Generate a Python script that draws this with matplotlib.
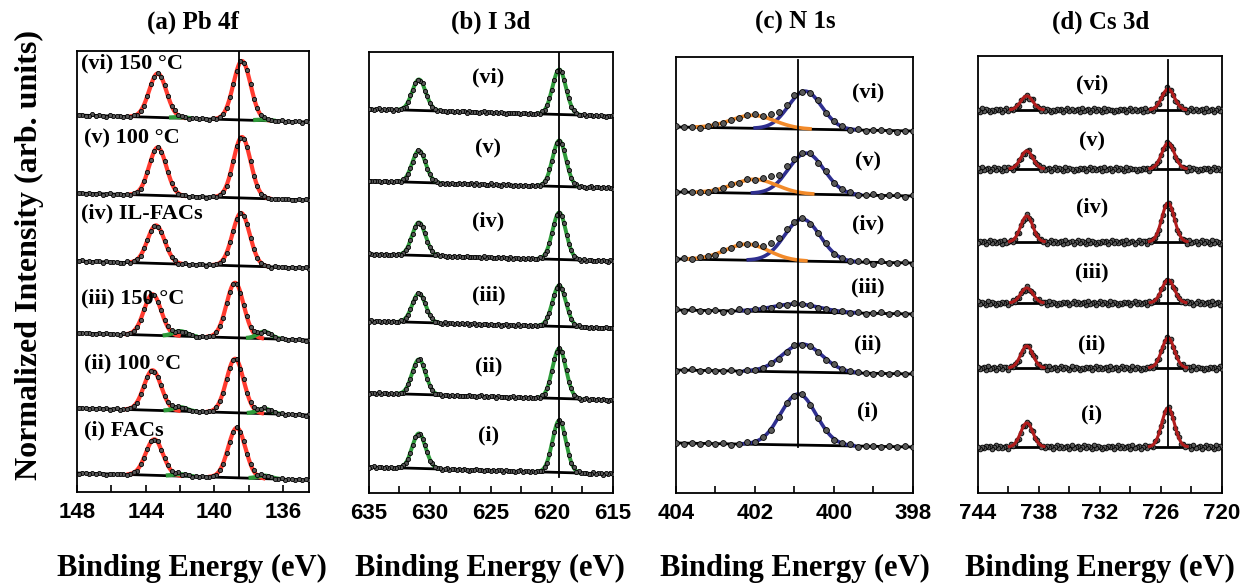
import numpy as np
import matplotlib
matplotlib.use('Agg')
import matplotlib.pyplot as plt

# spectra are listed from (i) at the bottom to (vi) at the top
SHORT_LABELS = ['(i)', '(ii)', '(iii)', '(iv)', '(v)', '(vi)']
PB_LABELS = ['(i) FACs', '(ii) 100 °C', '(iii) 150 °C',
             '(iv) IL-FACs', '(v) 100 °C', '(vi) 150 °C']
TITLES = ['(a) Pb 4f', '(b) I 3d', '(c) N 1s', '(d) Cs 3d']

# (a) Pb 4f
PB_OFFSET = [19, 84, 159, 231, 299, 377]
PB72_POS = [138.7, 138.8, 138.8, 138.45, 138.4, 138.4]
PB52_POS = [143.5, 143.6, 143.6, 143.4, 143.3, 143.3]
PB72_H = [50, 54, 55, 53, 61, 59]
PB52_H = [36, 40, 41, 38, 48, 44]
PB0_72_H = [3, 5, 7, 0, 0, 1]
PB0_52_H = [2, 4, 5, 0, 0, 1]
PB0_72_POS = 137.1
PB0_52_POS = 142.0
PB_LINE = 138.6

# (b) I 3d
I_OFFSET = [26, 100, 172, 239, 312, 384]
I52_POS = 619.4
I32_POS = 630.9
I52_H = [52, 50, 41, 47, 46, 45]
I32_H = [35, 35, 29, 33, 32, 31]
I_LINE = 619.4

# (c) N 1s
N_OFFSET = [50, 123, 183, 234, 301, 366]
N_MAIN_POS = [400.9, 400.8, 400.95, 400.8, 400.7, 400.73]
N_MAIN_H = [51, 28, 8, 42, 41, 38]
N_MAIN_W = [0.45, 0.5, 0.6, 0.45, 0.45, 0.42]
N_SIDE_POS = [402.1, 402.1, 402.1, 402.2, 402.0, 402.05]
N_SIDE_H = [0, 0, 0, 16, 14, 13]
N_LINE = 400.9

# (d) Cs 3d
CS_OFFSET = [46, 125, 190, 251, 324, 383]
CS52_POS = 725.3
CS32_POS = 739.2
CS52_H = [39, 30, 23, 39, 26, 21]
CS32_H = [24, 22, 15, 26, 18, 14]
CS_LINE = 725.3

# residual scatter
NOISE = [0, 1.5, -1, 2, -2, 0.5, 1, -1.5, 2.5, -0.5, -2, 1, 0, -1, 2,
         -2.5, 1.5, 0.5, -1, 1, -1.5, 2, 0, -2, 1, -0.5, 1.5, -1, 0.5, -2]

SERIF = ['Liberation Serif', 'DejaVu Serif']
TICKFONT = ['Liberation Sans', 'DejaVu Sans']


def draw_spectrum(ax, xlim, step, offset, drop, comps, ms, noise_amp, shift,
                  fit_on_top=False, fit_lw=2.6):
    x = np.arange(min(xlim), max(xlim) + step / 2, step)
    xf = np.linspace(min(xlim), max(xlim), 800)

    def bg(v):
        return offset - drop * (xlim[0] - v) / (xlim[0] - xlim[1])

    ax.plot(xf, bg(xf), color='black', lw=2.0, zorder=2)
    total = bg(x)
    for pos, h, sig, color in comps:
        if h <= 0:
            continue
        total = total + h * np.exp(-0.5 * ((x - pos) / sig) ** 2)
        g = h * np.exp(-0.5 * ((xf - pos) / sig) ** 2)
        m = g > 0.4
        ax.plot(xf[m], bg(xf[m]) + g[m], color=color, lw=fit_lw,
                zorder=5 if fit_on_top else 3)
    noise = np.roll(np.resize(np.array(NOISE, float), len(x)), shift)
    ax.plot(x, total + noise_amp * noise, ls='none', marker='o', ms=ms,
            mfc='0.35', mec='black', mew=0.6, zorder=4)


def style_axes(ax, xlim, ylim, majors, minors):
    ax.set_xlim(xlim)
    ax.set_ylim(ylim)
    ax.set_yticks([])
    ax.set_xticks(majors, labels=[str(t) for t in majors], fontsize=16,
                  fontweight='bold', family=TICKFONT)
    ax.set_xticks(minors, minor=True)
    ax.tick_params(axis='x', which='both', direction='in', length=5,
                   width=1.2, pad=7)
    for s in ax.spines.values():
        s.set_linewidth(1.3)


fig = plt.figure(figsize=(12.46, 5.85), dpi=100)

rects = [(0.0618, 0.159, 0.1862, 0.7538),
         (0.2961, 0.1573, 0.1958, 0.7538),
         (0.5425, 0.1573, 0.1902, 0.7453),
         (0.7849, 0.1573, 0.1958, 0.7470)]
axes = [fig.add_axes(r) for r in rects]

# (a) Pb 4f
ax = axes[0]
xl = (148, 134.5)
for k in range(6):
    comps = [(PB72_POS[k], PB72_H[k], 0.5, '#ff3b2f'),
             (PB52_POS[k], PB52_H[k], 0.5, '#ff3b2f'),
             (PB0_72_POS, PB0_72_H[k], 0.4, '#2e9a3a'),
             (PB0_52_POS, PB0_52_H[k], 0.4, '#2e9a3a')]
    draw_spectrum(ax, xl, 0.2, PB_OFFSET[k], 7, comps, 3.0, 0.4, 5 * k,
                  fit_lw=3.0)
ax.plot([PB_LINE, PB_LINE], [15, 441], color='black', lw=1.3, zorder=6)
label_y = [62, 129, 194, 279, 354, 429]
label_x = [147.6, 147.6, 147.75, 147.75, 147.6, 147.75]
for k in range(6):
    ax.text(label_x[k], label_y[k], PB_LABELS[k], fontsize=16,
            fontweight='bold', family=SERIF, ha='left', va='center', zorder=7)
style_axes(ax, xl, (0, 441), [148, 144, 140, 136], [146, 142, 138])

# (b) I 3d
ax = axes[1]
xl = (635, 615)
for k in range(6):
    comps = [(I52_POS, I52_H[k], 0.55, '#2e9a3a'),
             (I32_POS, I32_H[k], 0.55, '#2e9a3a')]
    draw_spectrum(ax, xl, 0.2, I_OFFSET[k], 7, comps, 3.0, 0.4, 3 * k,
                  fit_lw=2.8)
ax.plot([I_LINE, I_LINE], [16, 441], color='black', lw=1.3, zorder=6)
label_y = [57, 127, 198, 272, 345, 416]
for k in range(6):
    ax.text(625.2, label_y[k], SHORT_LABELS[k], fontsize=16,
            fontweight='bold', family=SERIF, ha='center', va='center')
style_axes(ax, xl, (0, 441), [635, 630, 625, 620, 615],
           [632.5, 627.5, 622.5, 617.5])

# (c) N 1s
ax = axes[2]
xl = (404, 398)
for k in range(6):
    comps = [(N_MAIN_POS[k], N_MAIN_H[k], N_MAIN_W[k], '#2f2f8f'),
             (N_SIDE_POS[k], N_SIDE_H[k], 0.55, '#f28a2a')]
    draw_spectrum(ax, xl, 0.2, N_OFFSET[k], 4, comps, 4.2, 0.5, 7 * k)
ax.plot([N_LINE, N_LINE], [46, 433], color='black', lw=1.3, zorder=6)
label_y = [81, 148, 205, 268, 331, 400]
for k in range(6):
    ax.text(399.14, label_y[k], SHORT_LABELS[k], fontsize=16,
            fontweight='bold', family=SERIF, ha='center', va='center')
style_axes(ax, xl, (0, 436), [404, 402, 400, 398], [403, 401, 399])

# (d) Cs 3d
ax = axes[3]
xl = (744, 720)
for k in range(6):
    comps = [(CS52_POS, CS52_H[k], 0.62, '#b01c1c'),
             (CS32_POS, CS32_H[k], 0.6, '#b01c1c')]
    draw_spectrum(ax, xl, 0.2, CS_OFFSET[k], 0, comps, 3.4, 0.9, 11 * k,
                  fit_on_top=True, fit_lw=2.2)
ax.plot([CS_LINE, CS_LINE], [46, 433], color='black', lw=1.3, zorder=6)
label_y = [78, 148, 220, 285, 351, 408]
for k in range(6):
    ax.text(732.8, label_y[k], SHORT_LABELS[k], fontsize=16,
            fontweight='bold', family=SERIF, ha='center', va='center')
style_axes(ax, xl, (0, 437), [744, 738, 732, 726, 720],
           [741, 735, 729, 723])

title_x = [0.155, 0.394, 0.638, 0.883]
xlabel_x = [0.154, 0.393, 0.638, 0.883]
for k in range(4):
    fig.text(title_x[k], 0.962, TITLES[k], fontsize=18, fontweight='bold',
             family=SERIF, ha='center', va='center')
    fig.text(xlabel_x[k], 0.028, 'Binding Energy (eV)', fontsize=22,
             fontweight='bold', family=SERIF, ha='center', va='center')
fig.text(0.024, 0.564, 'Normalized Intensity (arb. units)', fontsize=23,
         fontweight='bold', family=SERIF, rotation=90, ha='center',
         va='center')

fig.savefig('out.png', dpi=100)
